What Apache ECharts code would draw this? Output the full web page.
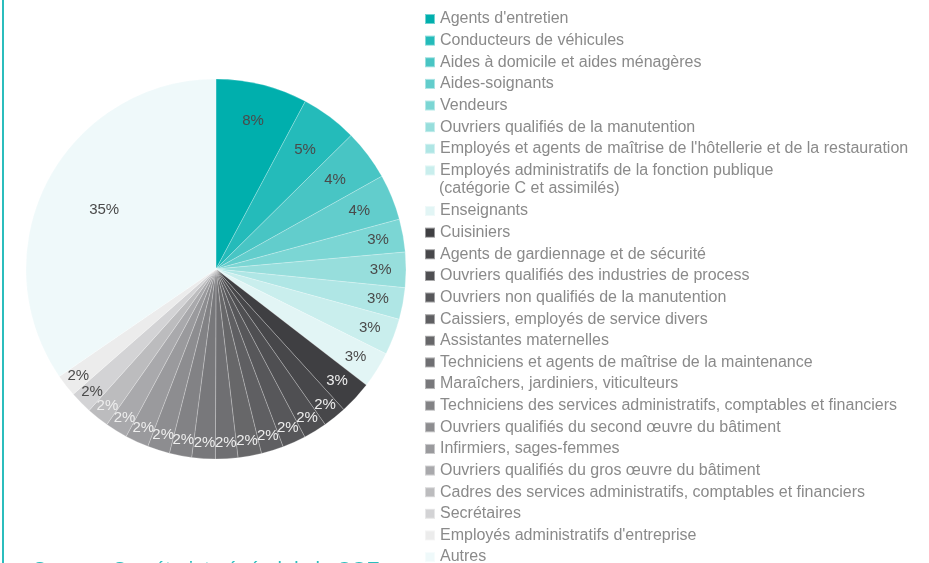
<!DOCTYPE html>
<html>
<head>
<meta charset="utf-8">
<script src="https://cdn.jsdelivr.net/npm/echarts@6/dist/echarts.min.js"></script>
<style>
html, body { margin: 0; padding: 0; background: #fff; }
#chart { width: 929px; height: 563px; }
</style>
</head>
<body>
<div id="chart"></div>
<script>
// métiers (ordre du camembert, sens horaire depuis midi)
var metiers = [
	"Agents d'entretien",
	"Conducteurs de véhicules",
	"Aides à domicile et aides ménagères",
	"Aides-soignants",
	"Vendeurs",
	"Ouvriers qualifiés de la manutention",
	"Employés et agents de maîtrise de l'hôtellerie et de la restauration",
	"Employés administratifs de la fonction publique",
	"Enseignants",
	"Cuisiniers",
	"Agents de gardiennage et de sécurité",
	"Ouvriers qualifiés des industries de process",
	"Ouvriers non qualifiés de la manutention",
	"Caissiers, employés de service divers",
	"Assistantes maternelles",
	"Techniciens et agents de maîtrise de la maintenance",
	"Maraîchers, jardiniers, viticulteurs",
	"Techniciens des services administratifs, comptables et financiers",
	"Ouvriers qualifiés du second œuvre du bâtiment",
	"Infirmiers, sages-femmes",
	"Ouvriers qualifiés du gros œuvre du bâtiment",
	"Cadres des services administratifs, comptables et financiers",
	"Secrétaires",
	"Employés administratifs d'entreprise",
	"Autres"
];
// parts en %
var parts = [7.8, 4.8, 4.3, 3.9, 2.8, 3.0, 2.7, 3.1, 3.1, 2.8,
	2.0, 2.0, 2.0, 1.9, 2.0, 1.9, 2.0, 1.9, 1.9, 2.0, 1.9, 1.9, 1.9, 1.9,
	34.6];

var palette = [
	'#00afad', '#24bbba', '#48c5c4', '#62cdcc', '#7bd6d4', '#97dedc', '#afe6e5', '#c9eeed', '#e2f5f5',
	'#3f3f42', '#47474a', '#4f4f52', '#57575a', '#5f5f62', '#676769', '#6f6f72', '#78787b', '#828285',
	'#8d8d90', '#9a9a9d', '#a9a9ac', '#bcbcbe', '#d3d3d5', '#ececec', '#eff9fa'
];

var CX = 216, CY = 269, R = 190;
var FONT = 'Liberation Sans, Arial, sans-serif';

var chart = echarts.init(document.getElementById('chart'));

var pieData = metiers.map(function(nom, i){
	var clair = (i >= 9 && i <= 21);
	return {
		name	: nom,
		value	: parts[i],
		label	: { color: clair ? '#eeeeee' : '#4a4a4a' }
	};
});

function legendBase(noms, top){
	return {
		orient		: 'vertical',
		left		: 424,
		top			: top,
		height		: 420,
		padding		: 0,
		data		: noms,
		icon		: 'rect',
		itemWidth	: 10,
		itemHeight	: 10,
		itemGap		: 1.63,
		selectedMode: false,
		textStyle	: {
			color		: '#8a8a8a',
			fontSize	: 16,
			lineHeight	: 20,
			fontFamily	: FONT
		}
	};
}

var option = {
	animation	: false,
	color		: palette,
	legend		: [
		legendBase(metiers.slice(0, 8), 9),
		legendBase(metiers.slice(8), 201)
	],
	graphic		: [
		{
			type	: 'rect',
			shape	: { x: 2, y: 0, width: 2, height: 563 },
			style	: { fill: '#2bbdbd' }
		},
		{
			type	: 'text',
			x		: 439,
			y		: 189,
			style	: {
				text		: '(catégorie C et assimilés)',
				fill		: '#8a8a8a',
				font		: '16px ' + FONT,
				verticalAlign: 'middle'
			}
		},
		{
			type	: 'text',
			x		: 33,
			y		: 560,
			style	: {
				text		: 'Source : Secrétariat général de la CGE',
				fill		: '#2bbdbd',
				font		: '20px ' + FONT,
				verticalAlign: 'top'
			}
		}
	],
	series		: [{
		type		: 'pie',
		center		: [CX, CY],
		radius		: [0, R],
		startAngle	: 90,
		data		: pieData,
		itemStyle	: {
			borderColor	: 'rgba(255,255,255,0.45)',
			borderWidth	: 0.5
		},
		label		: {
			position	: 'inside',
			fontSize	: 15,
			fontFamily	: FONT,
			formatter	: function(p){ return Math.round(p.value) + '%'; }
		},
		labelLine	: { show: false },
		emphasis	: { disabled: true },
		labelLayout	: function(p){
			// étiquettes poussées vers le bord du disque
			var k;
			if (p.dataIndex === 24) k = 0.645;
			else if (p.dataIndex === 0) k = 0.78;
			else if (p.dataIndex < 3) k = 0.76;
			else if (p.dataIndex < 4) k = 0.79;
			else if (p.dataIndex < 10) k = 0.84;
			else k = 0.89;
			var lx = p.labelRect.x + p.labelRect.width / 2;
			var ly = p.labelRect.y + p.labelRect.height / 2;
			var s = k / 0.5;
			return {
				x	: CX + (lx - CX) * s,
				y	: CY + (ly - CY) * s
			};
		}
	}]
};

chart.setOption(option);
</script>
</body>
</html>
